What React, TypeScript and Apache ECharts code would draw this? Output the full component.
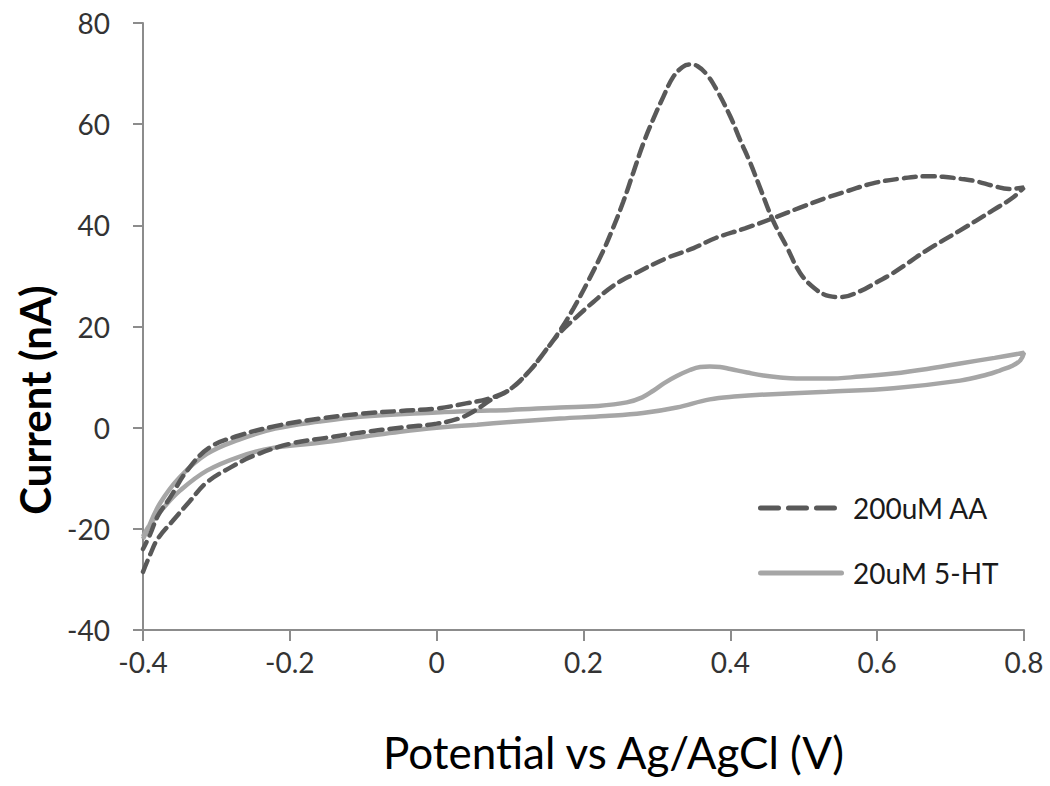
import React, { useEffect, useRef } from "react";
import * as echarts from "echarts";

// Cyclic voltammograms (potential V, current nA)
const aaForwardV = [-0.4, -0.39, -0.38, -0.36, -0.336, -0.313, -0.28, -0.25, -0.2, -0.15, -0.1, -0.05, 0, 0.03, 0.05, 0.075, 0.1, 0.127, 0.145, 0.168, 0.186, 0.205, 0.227, 0.24, 0.254, 0.268, 0.281, 0.295, 0.309, 0.322, 0.335, 0.345, 0.355, 0.368, 0.381, 0.4, 0.413, 0.427, 0.44, 0.458, 0.477, 0.495, 0.515, 0.535, 0.55, 0.577, 0.6, 0.622, 0.668, 0.713, 0.758, 0.785, 0.8];
const aaForwardI = [-28.5, -25, -22, -18.5, -14.5, -10.8, -7.8, -5.6, -3.2, -2, -0.9, 0, 0.8, 1.8, 3.2, 5.6, 7.6, 11.3, 14.6, 19.2, 23.5, 28.6, 35, 39.4, 44.6, 50.5, 56, 61, 65.5, 69.3, 71.3, 71.8, 71.5, 69.8, 66.9, 61.5, 57, 52.4, 47.6, 41, 35.7, 30.6, 27.5, 26, 25.8, 27, 28.8, 30.6, 35.1, 39, 43, 45.5, 47.5];
const aaReverseV = [0.8, 0.78, 0.758, 0.735, 0.713, 0.69, 0.668, 0.63, 0.594, 0.56, 0.532, 0.495, 0.458, 0.42, 0.38, 0.35, 0.313, 0.268, 0.24, 0.213, 0.19, 0.168, 0.145, 0.127, 0.1, 0.072, 0.04, 0, -0.05, -0.1, -0.16, -0.22, -0.27, -0.31, -0.34, -0.363, -0.38, -0.39, -0.4];
const aaReverseI = [47.5, 47.2, 47.8, 48.7, 49.2, 49.6, 49.7, 49.2, 48.3, 46.8, 45.5, 43.5, 41.4, 39.4, 37.5, 35.5, 33.5, 30.3, 28, 24.8, 21.8, 18.8, 14.6, 11.3, 7.6, 5.8, 4.8, 3.8, 3.3, 2.8, 1.8, 0.3, -1.6, -4, -8.5, -13.8, -17.5, -21, -24];

const htForwardV = [-0.4, -0.39, -0.373, -0.35, -0.313, -0.27, -0.223, -0.16, -0.1, -0.05, 0, 0.055, 0.1, 0.168, 0.23, 0.281, 0.327, 0.372, 0.41, 0.44, 0.532, 0.622, 0.713, 0.75, 0.767, 0.785, 0.795, 0.8];
const htForwardI = [-21.5, -19, -16, -12.5, -8.5, -5.8, -4, -3, -1.8, -0.8, 0, 0.6, 1.1, 1.8, 2.3, 2.9, 4, 5.6, 6.2, 6.5, 7.1, 7.8, 9.3, 10.5, 11.3, 12.3, 13.3, 14.8];
const htReverseV = [0.8, 0.76, 0.713, 0.668, 0.622, 0.577, 0.532, 0.49, 0.468, 0.445, 0.423, 0.4, 0.386, 0.372, 0.359, 0.345, 0.327, 0.31, 0.295, 0.28, 0.259, 0.22, 0.168, 0.1, 0.05, 0, -0.1, -0.16, -0.22, -0.27, -0.313, -0.35, -0.377, -0.395, -0.4];
const htReverseI = [14.8, 13.8, 12.7, 11.6, 10.7, 10.1, 9.7, 9.7, 9.9, 10.3, 10.9, 11.6, 12, 12.1, 12, 11.4, 10.2, 8.8, 7.3, 6, 5, 4.3, 4, 3.5, 3.3, 3, 2.2, 1.2, -0.2, -2.4, -5.2, -9.8, -15, -20.5, -22];

const seriesNames = ["200uM AA", "20uM 5-HT"];
const xTicks = { min: -0.4, max: 0.8, interval: 0.2 };
const yTicks = { min: -40, max: 80, interval: 20 };

function pairs(xs: number[], ys: number[]) {
  return xs.map((x, i) => [x, ys[i]]);
}

export default function App() {
  const ref = useRef<HTMLDivElement>(null);
  useEffect(() => {
    if (!ref.current) return;
    const chart = echarts.init(ref.current, null, { renderer: "svg" });
    const aaData = pairs(aaForwardV, aaForwardI).concat(pairs(aaReverseV, aaReverseI).slice(1));
    const htData = pairs(htForwardV, htForwardI).concat(pairs(htReverseV, htReverseI).slice(1));
    const axisColor = "#8c8c8c";
    chart.setOption({
      animation: false,
      backgroundColor: "#ffffff",
      grid: { left: 143, right: 26, top: 23, bottom: 156 },
      legend: {
        orient: "vertical",
        left: 753,
        top: 486,
        itemWidth: 86,
        itemHeight: 5,
        itemGap: 31,
        symbolKeepAspect: false,
        textStyle: { fontFamily: "Lato", fontSize: 28, color: "#1a1a1a", lineHeight: 34, padding: [0, 0, 0, 4] },
        data: [
          { name: seriesNames[0], icon: "path://M2.5 0h18a2.5 2.5 0 0 1 0 5h-18a2.5 2.5 0 0 1 0-5z M30.5 0h18a2.5 2.5 0 0 1 0 5h-18a2.5 2.5 0 0 1 0-5z M58.5 0h18a2.5 2.5 0 0 1 0 5h-18a2.5 2.5 0 0 1 0-5z M86 2.5h0.01z" },
          { name: seriesNames[1], icon: "path://M2.5 0h81a2.5 2.5 0 0 1 0 5h-81a2.5 2.5 0 0 1 0-5z" },
        ],
      },
      xAxis: {
        type: "value",
        min: xTicks.min,
        max: xTicks.max,
        interval: xTicks.interval,
        name: "Potential vs Ag/AgCl (V)",
        nameLocation: "middle",
        nameGap: 100,
        nameTextStyle: { fontFamily: "Lato", fontSize: 44, color: "#000", padding: [0, 0, 0, 60] },
        axisLine: { show: true, onZero: false, lineStyle: { color: axisColor, width: 2 } },
        axisTick: { show: true, inside: false, length: 11, lineStyle: { color: axisColor, width: 2 } },
        axisLabel: {
          margin: 18,
          fontFamily: "Lato",
          fontSize: 28,
          color: "#333",
          formatter: (v: number) => String(Number(v.toFixed(1))),
        },
        splitLine: { show: false },
      },
      yAxis: {
        type: "value",
        min: yTicks.min,
        max: yTicks.max,
        interval: yTicks.interval,
        name: "Current (nA)",
        nameLocation: "middle",
        nameGap: 86,
        nameTextStyle: { fontFamily: "Lato", fontSize: 42, fontWeight: "bold", color: "#000", padding: [0, 147, 0, 0] },
        axisLine: { show: true, onZero: false, lineStyle: { color: axisColor, width: 2 } },
        axisTick: { show: true, inside: false, length: 10, lineStyle: { color: axisColor, width: 2 } },
        axisLabel: { margin: 33, fontFamily: "Lato", fontSize: 28, color: "#333" },
        splitLine: { show: false },
      },
      series: [
        {
          name: seriesNames[0],
          type: "line",
          data: aaData,
          showSymbol: false,
          symbol: "none",
          smooth: 0.4,
          z: 3,
          lineStyle: { color: "#595959", width: 4.5, type: [12, 7], cap: "round" },
          itemStyle: { color: "#595959" },
        },
        {
          name: seriesNames[1],
          type: "line",
          data: htData,
          showSymbol: false,
          symbol: "none",
          smooth: 0.4,
          z: 2,
          lineStyle: { color: "#a6a6a6", width: 4.5, type: "solid" },
          itemStyle: { color: "#a6a6a6" },
        },
      ],
    });
    return () => chart.dispose();
  }, []);
  return <div ref={ref} style={{ position: "absolute", left: 0, top: 0, width: 1050, height: 786 }} />;
}
